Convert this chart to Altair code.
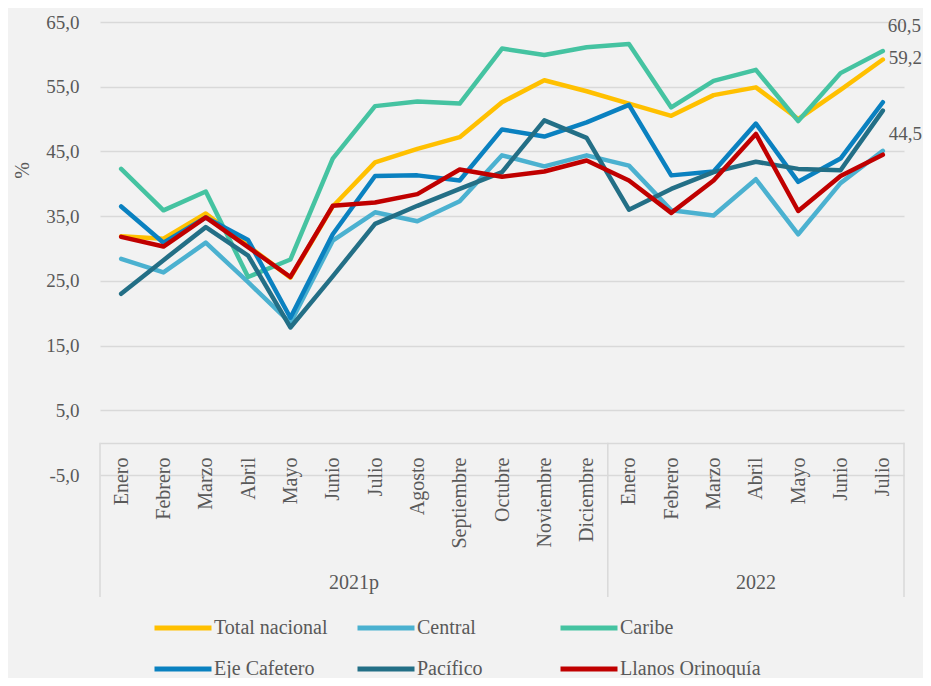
import altair as alt
import pandas as pd

months = ["Enero", "Febrero", "Marzo", "Abril", "Mayo", "Junio", "Julio", "Agosto",
          "Septiembre", "Octubre", "Noviembre", "Diciembre",
          "Enero", "Febrero", "Marzo", "Abril", "Mayo", "Junio", "Julio"]
years = ["2021p", "2022"]
year_centers = [5.5, 15]
separators = [-0.5, 11.5, 18.5]

series_names = ["Total nacional", "Central", "Caribe", "Eje Cafetero", "Pacífico", "Llanos Orinoquía"]
colors = ["#FFC000", "#4BB1D0", "#45C3A1", "#0A81C0", "#236F86", "#C00000"]

total_nacional = [31.9, 31.5, 35.4, 30.4, 25.5, 36.5, 43.3, 45.4, 47.2, 52.6, 56.0, 54.3,
                  52.4, 50.5, 53.7, 54.9, 50.0, 54.5, 59.2]
central = [28.4, 26.3, 30.9, 24.8, 18.5, 31.2, 35.6, 34.2, 37.3, 44.4, 42.7, 44.4,
           42.8, 35.9, 35.1, 40.7, 32.2, 40.1, 45.1]
caribe = [42.3, 35.9, 38.8, 25.6, 28.3, 43.9, 52.0, 52.7, 52.4, 60.9, 59.9, 61.1,
          61.6, 51.8, 55.9, 57.6, 49.7, 57.1, 60.5]
eje_cafetero = [36.5, 30.9, 34.8, 31.3, 19.3, 32.2, 41.2, 41.3, 40.5, 48.4, 47.3, 49.5,
                52.2, 41.3, 41.9, 49.3, 40.3, 43.9, 52.6]
pacifico = [23.0, 28.2, 33.3, 28.9, 17.8, 25.7, 33.8, 36.6, 39.2, 41.8, 49.8, 47.1,
            36.0, 39.2, 41.8, 43.4, 42.3, 42.1, 51.3]
llanos = [31.8, 30.3, 34.8, 30.2, 25.6, 36.6, 37.1, 38.4, 42.2, 41.1, 41.9, 43.6,
          40.5, 35.5, 40.5, 47.7, 35.8, 41.2, 44.5]

y_ticks = [-5, 5, 15, 25, 35, 45, 55, 65]

all_series = [total_nacional, central, caribe, eje_cafetero, pacifico, llanos]
rows = []
for name, vals in zip(series_names, all_series):
    for i, v in enumerate(vals):
        rows.append({"idx": i, "serie": name, "valor": v})
df = pd.DataFrame(rows)

FONT = "Liberation Serif"
GRAY = "#595959"
GRID = "#D9D9D9"

x_scale = alt.Scale(domain=[-0.5, 18.5], nice=False, zero=False)
y_scale = alt.Scale(domain=[-5, 65], nice=False, zero=False)

month_expr = "[" + ",".join("'" + m + "'" for m in months) + "][datum.value]"

x_axis = alt.Axis(values=list(range(len(months))), labelExpr=month_expr,
                  labelAngle=270, labelFontSize=20, labelFont=FONT, labelColor=GRAY,
                  labelPadding=14, labelOverlap=False, labelFlush=False,
                  ticks=False, grid=False, domainColor=GRID, domainWidth=1.5,
                  offset=-32, title=None)
y_axis = alt.Axis(values=y_ticks,
                  labelExpr="replace(replace(format(datum.value, '.1f'), '.', ','), '\u2212', '-')",
                  labelFontSize=19, labelFont=FONT, labelColor=GRAY, labelPadding=21,
                  ticks=False, domain=False, grid=True, gridColor=GRID, gridWidth=1.5,
                  title="%", titleFont=FONT, titleFontSize=20, titleColor=GRAY,
                  titleFontWeight="normal", titleX=-78, titleY=148,
                  titleAlign="center", titleBaseline="middle")

lines = alt.Chart(df).mark_line(strokeWidth=4.5, strokeCap="round", strokeJoin="round").encode(
    x=alt.X("idx:Q", scale=x_scale, axis=x_axis),
    y=alt.Y("valor:Q", scale=y_scale, axis=y_axis),
    color=alt.Color("serie:N", sort=series_names,
                    scale=alt.Scale(domain=series_names, range=colors),
                    legend=alt.Legend(orient="none", legendX=52, legendY=575,
                                      direction="horizontal", columns=3, title=None,
                                      symbolType="stroke", symbolSize=3249,
                                      symbolStrokeWidth=5, labelFontSize=20,
                                      labelFont=FONT, labelColor=GRAY, labelOffset=0,
                                      columnPadding=-9, rowPadding=-22, gridAlign="all",
                                      padding=0,
                                      labelExpr="datum.label == 'Eje Cafetero' ? '\u00a0Eje Cafetero' : datum.label")),
    order=alt.Order("idx:Q"),
)

sep_df = pd.DataFrame({"idx": separators})
rules = alt.Chart(sep_df).mark_rule(color=GRID, strokeWidth=1.5).encode(
    x=alt.X("idx:Q", scale=x_scale, axis=x_axis),
    y=alt.value(420.7),
    y2=alt.value(575),
)

year_df = pd.DataFrame({"idx": year_centers, "anio": years})
year_text = alt.Chart(year_df).mark_text(font=FONT, fontSize=20, color=GRAY, baseline="middle").encode(
    x=alt.X("idx:Q", scale=x_scale, axis=x_axis),
    y=alt.value(561),
    text="anio:N",
)

label_specs = [(caribe, 5, -25), (total_nacional, 6, -2), (llanos, 6, -21)]
label_layers = []
for vals, dx, dy in label_specs:
    last = len(vals) - 1
    ldf = pd.DataFrame({"idx": [last], "valor": [vals[last]],
                        "texto": [f"{vals[last]:.1f}".replace(".", ",")]})
    label_layers.append(
        alt.Chart(ldf).mark_text(font=FONT, fontSize=19, color=GRAY, align="left",
                                 baseline="middle", dx=dx, dy=dy).encode(
            x=alt.X("idx:Q", scale=x_scale, axis=x_axis),
            y=alt.Y("valor:Q", scale=y_scale, axis=y_axis),
            text="texto:N",
        )
    )

chart = alt.layer(lines, rules, year_text, *label_layers).properties(
    width=804, height=453, background="#F2F2F2",
    padding={"left": 92, "top": 14, "right": 19, "bottom": 203},
    autosize=alt.AutoSizeParams(type="none"),
).configure(font=FONT).configure_view(strokeWidth=0)

chart.save("out.html", embed_options={"renderer": "svg", "actions": False})
